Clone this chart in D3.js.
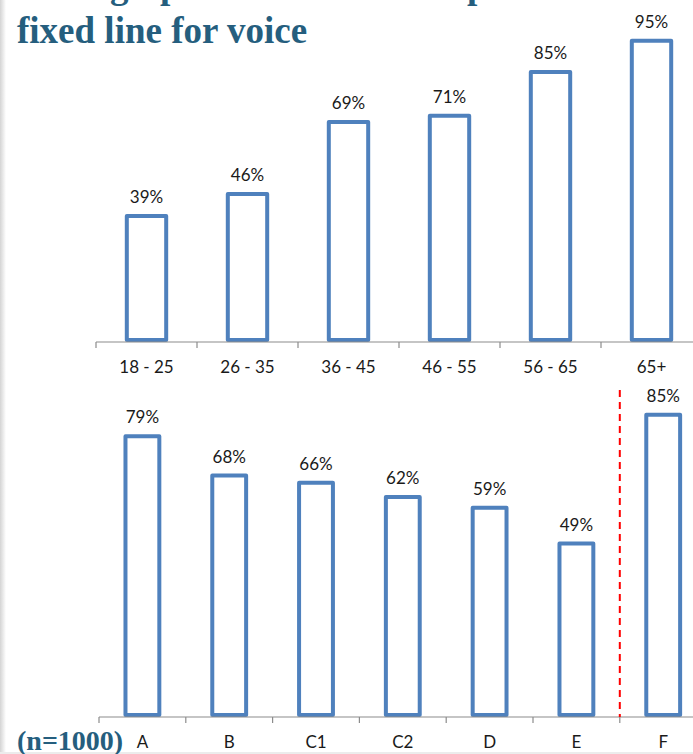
<!DOCTYPE html>
<html>
<head>
<meta charset="utf-8">
<script src="https://cdn.jsdelivr.net/npm/d3@7"></script>
<style>
  body { margin: 0; background: #fff; }
  .title { font-family: "Liberation Serif", "Times New Roman", serif; font-weight: bold; fill: #255e7e; }
  .val, .cat { font-family: Lato, "Open Sans", sans-serif; font-size: 17px; fill: #1a1a1a; }
  .bar { fill: #fff; stroke: #4f81bd; stroke-width: 4; stroke-linejoin: round; }
  .axis-line { stroke: #8c8c8c; stroke-width: 1.2; }
</style>
</head>
<body>
<script>
var width = 693,
    height = 754;

// top chart: share by age group
var ageGroups = ["18 - 25", "26 - 35", "36 - 45", "46 - 55", "56 - 65", "65+"];
var ageValues = [39, 46, 69, 71, 85, 95];

// bottom chart: share by segment
var segments = ["A", "B", "C1", "C2", "D", "E", "F"];
var segmentValues = [79, 68, 66, 62, 59, 49, 85];

var svg = d3.select("body")
    .append("svg")
    .attr("width", width)
    .attr("height", height);

// slide edge shading on the left
var defs = svg.append("defs");
var grad = defs.append("linearGradient").attr("id", "edge");
grad.append("stop").attr("offset", "0%").attr("stop-color", "#d4d4d4");
grad.append("stop").attr("offset", "100%").attr("stop-color", "#fff");
svg.append("rect").attr("x", 0).attr("y", 0).attr("width", 6).attr("height", height)
    .attr("fill", "url(#edge)");
svg.append("rect").attr("x", 0).attr("y", height - 2).attr("width", width).attr("height", 2)
    .attr("fill", "#ececec");

// title (first line is cut off at the top of the picture)
var titleTop = svg.append("text").attr("class", "title").style("font-size", "37px");
titleTop.append("tspan").attr("x", 110).attr("y", -2).text("g");
titleTop.append("tspan").attr("x", 160).attr("y", -2).text("p");
titleTop.append("tspan").attr("x", 467).attr("y", -2).text("p");

svg.append("text")
    .attr("class", "title")
    .attr("x", 17)
    .attr("y", 43)
    .style("font-size", "37px")
    .text("fixed line for voice");

svg.append("text")
    .attr("class", "title")
    .attr("x", 17)
    .attr("y", 750)
    .style("font-size", "28px")
    .text("(n=1000)");

function drawChart(cats, vals, x, y, axisY) {
    var g = svg.append("g");
    var bw = x.bandwidth() * 0.39;

    g.selectAll("rect.bar")
        .data(vals)
        .enter()
        .append("rect")
        .attr("class", "bar")
        .attr("x", function (d, i) { return x(cats[i]) + (x.bandwidth() - bw) / 2; })
        .attr("y", function (d) { return y(d); })
        .attr("width", bw)
        .attr("height", function (d) { return axisY - 2 - y(d); });

    g.selectAll("text.val")
        .data(vals)
        .enter()
        .append("text")
        .attr("class", "val")
        .attr("text-anchor", "middle")
        .attr("x", function (d, i) { return x(cats[i]) + x.bandwidth() / 2; })
        .attr("y", function (d) { return y(d) - 13; })
        .text(function (d) { return d + "%"; });

    // axis line and tick marks between categories (Excel style)
    var r = x.range();
    g.append("line")
        .attr("class", "axis-line")
        .attr("x1", r[0]).attr("x2", r[1])
        .attr("y1", axisY).attr("y2", axisY);

    var tickPos = cats.map(function (c) { return x(c); }).concat([r[1]]);
    g.selectAll("line.tick")
        .data(tickPos)
        .enter()
        .append("line")
        .attr("class", "axis-line")
        .attr("x1", function (d) { return d; }).attr("x2", function (d) { return d; })
        .attr("y1", axisY).attr("y2", axisY + 6);

    g.selectAll("text.cat")
        .data(cats)
        .enter()
        .append("text")
        .attr("class", "cat")
        .attr("text-anchor", "middle")
        .attr("x", function (d) { return x(d) + x.bandwidth() / 2; })
        .attr("y", axisY + 31)
        .text(function (d) { return d; });

    return g;
}

// top chart
var x0 = d3.scaleBand().domain(ageGroups).range([96, 96 + 6 * 101]);
var y0 = d3.scaleLinear().domain([-1.3, 100]).range([342, 25]);
drawChart(ageGroups, ageValues, x0, y0, 342);

// bottom chart
var x1 = d3.scaleBand().domain(segments).range([99, 99 + 7 * 86.8]);
var y1 = d3.scaleLinear().domain([0, 100]).range([719, 361]);
drawChart(segments, segmentValues, x1, y1, 717);

// red dashed separator before F
svg.append("line")
    .attr("x1", x1("F")).attr("x2", x1("F"))
    .attr("y1", 390).attr("y2", 717)
    .attr("stroke", "#ff0000")
    .attr("stroke-width", 2)
    .attr("stroke-dasharray", "7,5");
</script>
</body>
</html>
